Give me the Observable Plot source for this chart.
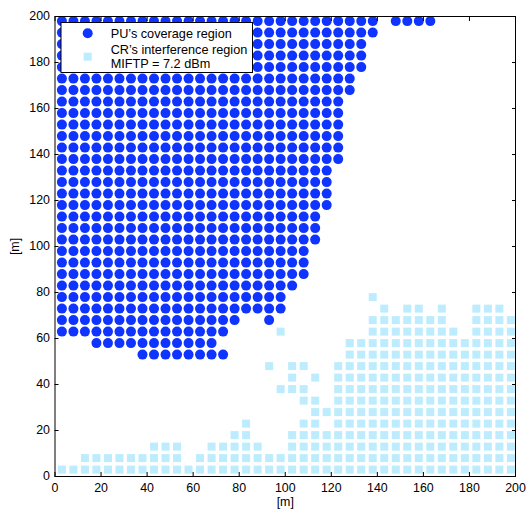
<!DOCTYPE html>
<html>
<head>
<meta charset="utf-8">
<script src="https://cdn.jsdelivr.net/npm/d3@7"></script>
<script src="https://cdn.jsdelivr.net/npm/@observablehq/plot@0.6"></script>
<style>
  body { margin: 0; background: #fff; }
  #chart svg { display: block; }
</style>
</head>
<body>
<div id="chart"></div>
<script>
// ---- data (metres) ----
const gridStep = 5;
const xTicks = [0, 20, 40, 60, 80, 100, 120, 140, 160, 180, 200];
const yTicks = [0, 20, 40, 60, 80, 100, 120, 140, 160, 180, 200];

// PU coverage region: each row = [y, [xStart, xEnd], ...] (sample points every gridStep)
const coverageRows = [
  [53, [38, 73]],
  [58, [18, 68]],
  [63, [3, 73]],
  [68, [3, 78], [93, 93]],
  [73, [3, 98]],
  [78, [3, 98]],
  [83, [3, 103]],
  [88, [3, 108]],
  [93, [3, 108]],
  [98, [3, 108]],
  [103, [3, 113]],
  [108, [3, 113]],
  [113, [3, 113]],
  [118, [3, 118]],
  [123, [3, 118]],
  [128, [3, 118]],
  [133, [3, 118]],
  [138, [3, 123]],
  [143, [3, 123]],
  [148, [3, 123]],
  [153, [3, 123]],
  [158, [3, 123]],
  [163, [3, 123]],
  [168, [3, 128]],
  [173, [3, 128]],
  [178, [3, 133]],
  [183, [3, 133]],
  [188, [3, 133]],
  [193, [3, 138]],
  [198, [3, 138], [148, 163]]
];

// CR interference region: each column = [x, [yStart, yEnd], ...]
const interferenceCols = [
  [3, [3, 3]], [8, [3, 3]],
  [13, [3, 8]], [18, [3, 8]], [23, [3, 8]], [28, [3, 8]], [33, [3, 8]], [38, [3, 8]],
  [43, [3, 13]], [48, [3, 13]], [53, [3, 13]],
  [58, [3, 3]],
  [63, [3, 8]],
  [68, [3, 13]], [73, [3, 13]],
  [78, [3, 18]],
  [83, [3, 23]],
  [88, [3, 13]],
  [93, [3, 8], [48, 48]],
  [98, [3, 8], [38, 38], [63, 63]],
  [103, [3, 18], [38, 48]],
  [108, [3, 23], [33, 38], [48, 48]],
  [113, [3, 33], [43, 43]],
  [118, [3, 18], [28, 28]],
  [123, [3, 48]],
  [128, [3, 58]],
  [133, [3, 58]],
  [138, [3, 68], [78, 78]],
  [143, [3, 73]],
  [148, [3, 68]],
  [153, [3, 73]],
  [158, [3, 73]],
  [163, [3, 68]],
  [168, [3, 73]],
  [173, [3, 63]],
  [178, [3, 58]],
  [183, [3, 73]], [188, [3, 73]], [193, [3, 73]],
  [198, [3, 68]]
];

const legendLabels = ["PU\u2019s coverage region", "CR\u2019s interference region", "MIFTP = 7.2 dBm"];
const axisLabel = "[m]";

// ---- build point tables ----
const coverage = [];
for (const [y, ...segs] of coverageRows)
  for (const [a, b] of segs)
    for (let x = a; x <= b; x += gridStep) coverage.push({x, y});

const interference = [];
for (const [x, ...segs] of interferenceCols)
  for (const [a, b] of segs)
    for (let y = a; y <= b; y += gridStep) interference.push({x, y});

const blue = "#1034ff";
const light = "#bcecfd";
const font = "'Liberation Sans', Arial, Helvetica, sans-serif";

const plot = Plot.plot({
  width: 526,
  height: 510,
  marginLeft: 54.5,
  marginRight: 11,
  marginTop: 16,
  marginBottom: 34,
  x: {domain: [0, 200]},
  y: {domain: [0, 200]},
  style: {fontFamily: font, fontSize: "12.4px", color: "#000", background: "#fff", overflow: "visible"},
  marks: [
    Plot.dot(coverage, {x: "x", y: "y", r: 5, fill: blue}),
    Plot.dot(interference, {x: "x", y: "y", r: 8 / Math.sqrt(Math.PI), symbol: "square", fill: light}),
    Plot.frame({stroke: "#000", strokeWidth: 1}),
    Plot.axisX({anchor: "bottom", ticks: xTicks, tickSize: -4, tickPadding: 11, label: null, stroke: "#000"}),
    Plot.axisX({anchor: "top", ticks: xTicks, tickSize: -4, tickFormat: () => "", label: null, stroke: "#000"}),
    Plot.axisY({anchor: "left", ticks: yTicks, tickSize: -4, tickPadding: 9, label: null, stroke: "#000"}),
    Plot.axisY({anchor: "right", ticks: yTicks, tickSize: -4, tickFormat: () => "", label: null, stroke: "#000"}),
    Plot.text([axisLabel], {frameAnchor: "bottom", lineAnchor: "middle", textAnchor: "middle", dy: 26, fill: "#000"}),
    Plot.text([axisLabel], {frameAnchor: "left", lineAnchor: "middle", textAnchor: "middle", dx: -40, rotate: -90, fill: "#000"})
  ]
});

// ---- legend (inside the frame, top-left) ----
const svg = d3.select(plot);
const lg = svg.append("g")
  .attr("font-family", font)
  .attr("font-size", "12.7px")
  .attr("text-anchor", "start");
const L = 61, T = 22.5, W = 191.5, H = 50;
lg.append("rect").attr("x", L).attr("y", T).attr("width", W).attr("height", H)
  .attr("fill", "#fff").attr("stroke", "#000").attr("stroke-width", 1);
lg.append("circle").attr("cx", L + 26.7).attr("cy", T + 10.8).attr("r", 5)
  .attr("fill", blue).attr("stroke", "none");
lg.append("rect").attr("x", L + 22.7).attr("y", T + 30.2).attr("width", 8).attr("height", 8)
  .attr("fill", light).attr("stroke", "none");
const ty = [T + 10.8, T + 27.5, T + 41.5];
legendLabels.forEach((t, i) => {
  lg.append("text").attr("x", L + 49.7).attr("y", ty[i]).attr("dy", "0.35em")
    .attr("text-anchor", "start").attr("fill", "#000").text(t);
});

document.getElementById("chart").appendChild(plot);
</script>
</body>
</html>
